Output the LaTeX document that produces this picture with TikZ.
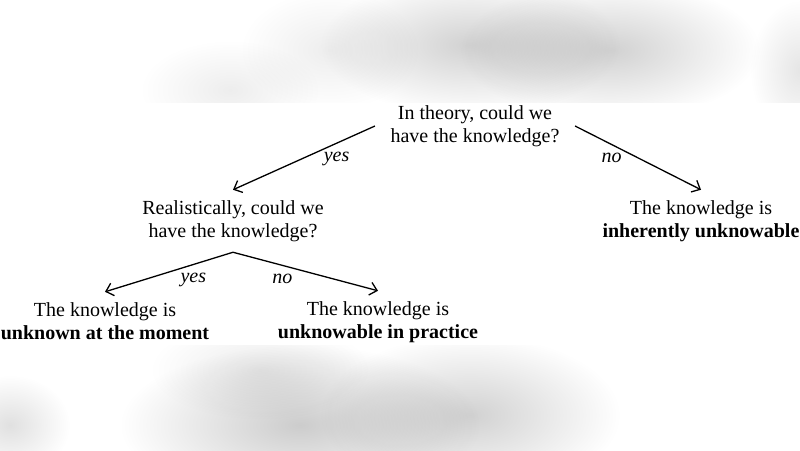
\documentclass[tikz,border=0pt]{standalone}
\usepackage{fontspec}
\setmainfont{Liberation Serif}
\usetikzlibrary{arrows.meta}
\usetikzlibrary{fadings}
\tikzfading[name=blobfade, inner color=transparent!0, outer color=transparent!100]
\tikzset{ans/.style={below,yshift=-6pt,inner sep=2pt,font=\fontsize{20}{23}\selectfont\itshape}}
\tikzset{>={Straight Barb[length=7pt,width=13pt]}}
\tikzset{txt/.style={align=center, inner xsep=2pt, inner ysep=10pt, font=\fontsize{20}{23}\selectfont}}
\tikzset{blob/.style={fill=black, path fading=blobfade}}

\begin{document}
\begin{tikzpicture}[x=1pt,y=-1pt,line width=1.3pt]
\useasboundingbox (0,0) rectangle (800,450);
% blurred backdrop
\fill[blob, opacity=0.18] (470,45) ellipse (150 and 70);
\fill[blob, opacity=0.18] (610,50) ellipse (150 and 70);
\fill[blob, opacity=0.07] (330,50) ellipse (90 and 60);
\fill[blob, opacity=0.07] (230,90) ellipse (90 and 50);
\fill[blob, opacity=0.10] (800,70) ellipse (50 and 70);
\fill[blob, opacity=0.20] (300,425) ellipse (180 and 80);
\fill[blob, opacity=0.18] (470,415) ellipse (150 and 80);
\fill[blob, opacity=0.08] (260,370) ellipse (110 and 50);
\fill[blob, opacity=0.12] (10,425) ellipse (60 and 50);
\fill[white] (0,103) rectangle (800,345);

\node (root) [txt, inner xsep=15pt] at (475,126) {In theory, could we\\have the knowledge?};
\node (real) [txt] at (233,221) {Realistically, could we\\have the knowledge?};
\node (inher) [txt] at (701,221) {The knowledge is\\\textbf{inherently unknowable}};
\node (now) [txt] at (105,321) {The knowledge is\\\textbf{unknown at the moment}};
\node (prac) [txt] at (378,322) {The knowledge is\\\textbf{unknowable in practice}};

\draw[->] (root.west) -- node[ans,pos=0.27] {yes} (real.north);
\draw[->] (root.east) -- node[ans,pos=0.29] {no} (inher.north);
\draw[->] (real.south) -- node[ans,pos=0.31] {yes} (now.north);
\draw[->] (real.south) -- node[ans,pos=0.34] {no} (prac.north);
\end{tikzpicture}
\end{document}
